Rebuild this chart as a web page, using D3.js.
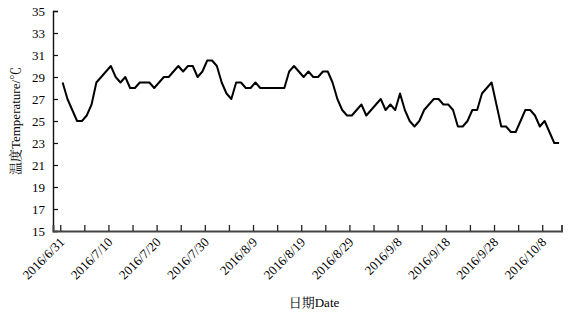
<!DOCTYPE html>
<html>
<head>
<meta charset="utf-8">
<script src="https://cdn.jsdelivr.net/npm/d3@7"></script>
<style>
  html, body { margin: 0; padding: 0; background: #fff; }
  svg { display: block; }
  text { font-family: "Liberation Serif", "Noto Serif CJK SC", "Noto Sans CJK SC", serif; fill: #000; }
</style>
</head>
<body>
<svg id="chart" width="581" height="316"></svg>
<script>
// Daily temperature (°C), 2016/7/1 .. 2016/10/12
const temperature = [
  28.5, 27, 26, 25, 25, 25.5, 26.5, 28.5, 29, 29.5,
  30, 29, 28.5, 29, 28, 28, 28.5, 28.5, 28.5, 28,
  28.5, 29, 29, 29.5, 30, 29.5, 30, 30, 29, 29.5,
  30.5, 30.5, 30, 28.5, 27.5, 27, 28.5, 28.5, 28, 28,
  28.5, 28, 28, 28, 28, 28, 28, 29.5, 30, 29.5,
  29, 29.5, 29, 29, 29.5, 29.5, 28.5, 27, 26, 25.5,
  25.5, 26, 26.5, 25.5, 26, 26.5, 27, 26, 26.5, 26,
  27.5, 26, 25, 24.5, 25, 26, 26.5, 27, 27, 26.5,
  26.5, 26, 24.5, 24.5, 25, 26, 26, 27.5, 28, 28.5,
  26.5, 24.5, 24.5, 24, 24, 25, 26, 26, 25.5, 24.5,
  25, 24, 23, 23
];
const xTickLabels = ["2016/6/31", "2016/7/10", "2016/7/20", "2016/7/30", "2016/8/9",
  "2016/8/19", "2016/8/29", "2016/9/8", "2016/9/18", "2016/9/28", "2016/10/8"];
const yTicks = [15, 17, 19, 21, 23, 25, 27, 29, 31, 33, 35];
const xTitle = "日期Date";
const yTitle = "温度Temperature/℃";

const svg = d3.select("#chart");
const mLeft = 53, mRight = 561.5, mTop = 11, mBottom = 231;

const x = d3.scaleLinear().domain([-2, 103.5]).range([mLeft, mRight]);
const y = d3.scaleLinear().domain([15, 35]).range([mBottom, mTop]);

// tick marks every 5 points (between categories), labels every 10
const tickPos = d3.range(0, 21).map(k => 5 * k - 0.5);

// Y axis
const yAxis = svg.append("g").attr("transform", `translate(${mLeft},0)`)
  .call(d3.axisLeft(y).tickValues(yTicks).tickSize(-5).tickPadding(8).tickFormat(d3.format("d")));
yAxis.select(".domain").attr("stroke", "#111").attr("stroke-width", 1.4);
yAxis.selectAll(".tick line").attr("stroke", "#111").attr("stroke-width", 1.2);
yAxis.selectAll(".tick text").attr("font-size", 13).attr("x", -8);

// X axis
const xAxis = svg.append("g").attr("transform", `translate(0,${mBottom})`)
  .call(d3.axisBottom(x).tickValues(tickPos).tickSize(-6).tickFormat(""));
xAxis.select(".domain").attr("stroke", "#444").attr("stroke-width", 2);
xAxis.selectAll(".tick line").attr("stroke", "#222").attr("stroke-width", 1.3);

// X tick labels (rotated)
svg.append("g").selectAll("text")
  .data(xTickLabels)
  .join("text")
  .attr("font-size", 13)
  .attr("text-anchor", "end")
  .attr("transform", (d, i) => `translate(${x(tickPos[i * 2]) + 5},${mBottom + 12}) rotate(-45)`)
  .text(d => d);

// Line
const line = d3.line()
  .x((d, i) => x(i))
  .y(d => y(d))
  .curve(d3.curveLinear);
svg.append("path")
  .datum(temperature)
  .attr("fill", "none")
  .attr("stroke", "#000")
  .attr("stroke-width", 2)
  .attr("stroke-linejoin", "round")
  .attr("d", line);

// Titles
svg.append("text")
  .attr("x", 314).attr("y", 307)
  .attr("text-anchor", "middle")
  .attr("font-size", 13)
  .text(xTitle);
svg.append("text")
  .attr("transform", `translate(20,${(mTop + mBottom) / 2}) rotate(-90)`)
  .attr("text-anchor", "middle")
  .attr("font-size", 13)
  .text(yTitle);
</script>
</body>
</html>
